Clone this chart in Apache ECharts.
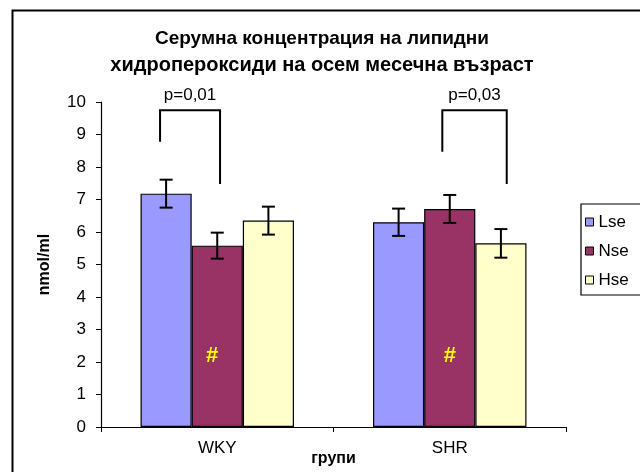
<!DOCTYPE html>
<html>
<head>
<meta charset="utf-8">
<script src="https://cdn.jsdelivr.net/npm/echarts@6/dist/echarts.min.js"></script>
<style>html,body{margin:0;padding:0;background:#fff}#c{width:640px;height:472px}</style>
</head>
<body>
<div id="c"></div>
<script>
var categories = ['WKY', 'SHR'];
var seriesNames = ['Lse', 'Nse', 'Hse'];
var Lse = [7.18, 6.30];
var Nse = [5.58, 6.71];
var Hse = [6.35, 5.65];
var LseErr = [0.43, 0.42];
var NseErr = [0.40, 0.43];
var HseErr = [0.43, 0.44];
var yTicks = [0, 1, 2, 3, 4, 5, 6, 7, 8, 9, 10];
var pLabels = ['p=0,01', 'p=0,03'];
// bracket: [category, leftOffset(cat units), rightOffset, leftBottom, rightBottom, top]
var brackets = [[0, -0.246, 0.012, 8.78, 7.48, 9.75], [1, -0.032, 0.245, 8.47, 7.48, 9.75]];
// hash marks: [category, offset(cat units), value]
var hashMarks = [[0, -0.022, 2.2], [1, 0.0, 2.2]];

var colors = ['#9999FF', '#993366', '#FFFFCC'];
var values = [Lse, Nse, Hse];
var errs = [LseErr, NseErr, HseErr];
var FONT = '"Liberation Sans", Arial, sans-serif';
var GAP = 0.34;

var errData = [];
for (var s = 0; s < 3; s++) for (var c = 0; c < categories.length; c++) errData.push([c, values[s][c], errs[s][c], s]);

var chart = echarts.init(document.getElementById('c'), null, {renderer: 'canvas'});
var series = seriesNames.map(function (n, i) {
  return {
    name: n, type: 'bar', data: values[i], barGap: 0, barCategoryGap: (GAP * 100) + '%',
    itemStyle: {color: colors[i], borderColor: '#000', borderWidth: 1.2}, z: 2
  };
});
series.push({
  type: 'custom', data: errData, z: 5, silent: true,
  renderItem: function (params, api) {
    var c = api.value(0), v = api.value(1), e = api.value(2), s = api.value(3);
    var cw = api.size([1, 0])[0];
    var bw = cw * (1 - GAP) / 3;
    var center = api.coord([c, v]);
    var x = center[0] + (s - 1) * bw;
    var yTop = api.coord([c, v + e])[1];
    var yBot = api.coord([c, v - e])[1];
    var cap = 6.5;
    var st = {stroke: '#000', lineWidth: 2};
    return {type: 'group', children: [
      {type: 'line', shape: {x1: x, y1: yTop, x2: x, y2: yBot}, style: st},
      {type: 'line', shape: {x1: x - cap, y1: yTop, x2: x + cap, y2: yTop}, style: st},
      {type: 'line', shape: {x1: x - cap, y1: yBot, x2: x + cap, y2: yBot}, style: st}
    ]};
  }
});
series.push({
  type: 'custom', data: brackets.map(function (b, i) { return b.concat([i]); }), z: 6, silent: true, clip: false,
  renderItem: function (params, api) {
    var c = api.value(0), lo = api.value(1), ro = api.value(2), lb = api.value(3), rb = api.value(4), tp = api.value(5);
    var cw = api.size([1, 0])[0];
    var cx = api.coord([c, tp])[0];
    var xl = cx + lo * cw, xr = cx + ro * cw;
    var yt = api.coord([c, tp])[1];
    var yl = api.coord([c, lb])[1], yr = api.coord([c, rb])[1];
    return {type: 'group', children: [
      {type: 'polyline', shape: {points: [[xl, yl], [xl, yt], [xr, yt], [xr, yr]]}, style: {stroke: '#000', lineWidth: 2, fill: null}},
      {type: 'text', x: (xl + xr) / 2, y: yt - 6, style: {text: pLabels[api.value(6)], fill: '#000', font: '17px ' + FONT, align: 'center', verticalAlign: 'bottom'}}
    ]};
  }
});
series.push({
  type: 'custom', data: hashMarks, z: 7, silent: true,
  renderItem: function (params, api) {
    var c = api.value(0), off = api.value(1), v = api.value(2);
    var cw = api.size([1, 0])[0];
    var p = api.coord([c, v]);
    return {type: 'text', x: p[0] + off * cw, y: p[1], style: {text: '#', fill: '#FFFF00', font: 'bold 22px ' + FONT, align: 'center', verticalAlign: 'middle'}};
  }
});

chart.setOption({
  animation: false,
  backgroundColor: '#fff',
  textStyle: {fontFamily: FONT},
  title: {
    text: '{a|Серумна концентрация на липидни}\n{b|хидропероксиди на осем месечна възраст}',
    left: 317, textAlign: 'center', top: 21,
    textStyle: {
      color: '#000', fontFamily: FONT,
      rich: {
        a: {fontSize: 19, fontWeight: 'bold', color: '#000', lineHeight: 26, fontFamily: FONT},
        b: {fontSize: 20, fontWeight: 'bold', color: '#000', lineHeight: 26, fontFamily: FONT}
      }
    }
  },
  legend: {
    data: seriesNames, orient: 'vertical', left: 581, top: 204,
    padding: [9, 30, 6, 4], itemWidth: 8, itemHeight: 8, itemGap: 11, itemTextGap: 4,
    borderColor: '#000', borderWidth: 1.2, icon: 'rect', itemStyle: {borderColor: '#000', borderWidth: 1},
    textStyle: {fontSize: 17, lineHeight: 18, color: '#000', fontFamily: FONT}
  },
  grid: {left: 101, right: 74, top: 102, bottom: 45, outerBoundsMode: 'none', containLabel: false},
  xAxis: {
    type: 'category', data: categories,
    name: 'групи', nameLocation: 'middle', nameGap: 24, nameMoveOverlap: false,
    nameTextStyle: {fontWeight: 'bold', fontSize: 16, color: '#000', verticalAlign: 'top'},
    axisLine: {lineStyle: {color: '#000', width: 1.2}},
    axisTick: {show: true, length: 5, lineStyle: {color: '#000'}},
    axisLabel: {color: '#000', fontSize: 17, margin: 13}
  },
  yAxis: {
    type: 'value', min: 0, max: 10, interval: 1,
    name: 'nmol/ml', nameLocation: 'middle', nameGap: 48, nameRotate: 90, nameMoveOverlap: false,
    nameTextStyle: {fontWeight: 'bold', fontSize: 16, color: '#000'},
    axisLine: {show: true, lineStyle: {color: '#000', width: 1.2}},
    axisTick: {show: true, length: 5, lineStyle: {color: '#000'}},
    splitLine: {show: false},
    axisLabel: {color: '#000', fontSize: 17, margin: 15, formatter: function (v) { return yTicks.indexOf(v) >= 0 ? String(v) : ''; }}
  },
  graphic: [{type: 'rect', left: 10, top: 8, shape: {width: 700, height: 600}, style: {fill: null, stroke: '#000', lineWidth: 2}, silent: true, z: 100}],
  series: series
});
</script>
</body>
</html>
